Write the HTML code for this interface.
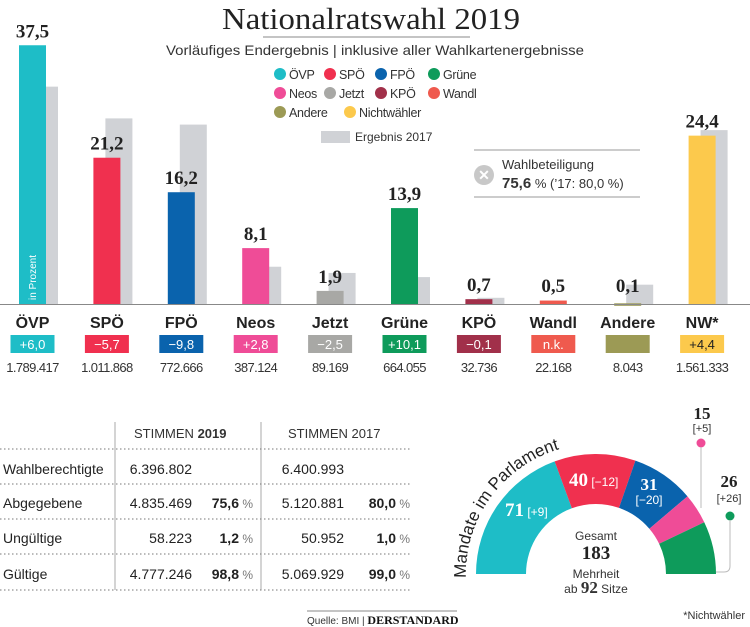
<!DOCTYPE html>
<html><head><meta charset="utf-8">
<style>
body{margin:0;background:#fff;width:750px;height:627px;overflow:hidden;position:relative;font-family:"Liberation Sans",sans-serif;color:#222}
svg{position:absolute;left:0;top:0}
.t{font-family:"Liberation Sans",sans-serif}
.s{font-family:"Liberation Serif",serif}
</style></head><body>
<svg width="750" height="627" viewBox="0 0 750 627">
<defs><path id="titlearc" d="M466 578 A130 130 0 0 1 590 444"/></defs>
<text x="371" y="29" text-anchor="middle" class="s" font-size="31" fill="#222" textLength="298" lengthAdjust="spacingAndGlyphs">Nationalratswahl 2019</text>
<line x1="263" y1="37" x2="470" y2="37" stroke="#888" stroke-width="1"/>
<text x="375" y="55" text-anchor="middle" class="t" font-size="14" fill="#333" textLength="418" lengthAdjust="spacingAndGlyphs">Vorläufiges Endergebnis | inklusive aller Wahlkartenergebnisse</text>
<g id="legend"></g>
<rect x="321" y="131" width="29" height="12" fill="#d0d2d6"/>
<text x="355" y="141" class="t" font-size="12" fill="#333">Ergebnis 2017</text>
<g>
<line x1="474" y1="150" x2="640" y2="150" stroke="#999"/>
<line x1="474" y1="197" x2="640" y2="197" stroke="#999"/>
<circle cx="484" cy="175" r="10" fill="#c8c8c8"/>
<text x="484" y="180" text-anchor="middle" font-size="14" font-weight="bold" fill="#fff" class="t">✕</text>
<text x="502" y="169" class="t" font-size="13" fill="#333">Wahlbeteiligung</text>
<text x="502" y="188" class="t" font-size="13" fill="#333"><tspan font-weight="bold" font-size="15">75,6</tspan> % (’17: 80,0 %)</text>
</g>
<g id="bars"></g>
<line x1="0" y1="304.5" x2="750" y2="304.5" stroke="#888" stroke-width="1"/>
<text transform="translate(36,300) rotate(-90)" class="t" font-size="10" fill="#fff">in Prozent</text>
<g id="below"></g>

<g class="t" font-size="14" fill="#222">
<line x1="115" y1="422" x2="115" y2="590" stroke="#aaa"/>
<line x1="261" y1="422" x2="261" y2="590" stroke="#aaa"/>
<g stroke="#777" stroke-dasharray="1.5,2.5" stroke-width="1">
<line x1="0" y1="449" x2="411" y2="449"/><line x1="0" y1="484" x2="411" y2="484"/><line x1="0" y1="519" x2="411" y2="519"/><line x1="0" y1="554" x2="411" y2="554"/><line x1="0" y1="590" x2="411" y2="590"/>
</g>
<text x="134" y="438" font-size="13" fill="#333">STIMMEN <tspan font-weight="bold">2019</tspan></text>
<text x="288" y="438" font-size="13" fill="#333">STIMMEN 2017</text>
<text x="3" y="474">Wahlberechtigte</text><text x="3" y="508">Abgegebene</text><text x="3" y="543">Ungültige</text><text x="3" y="579">Gültige</text>
<g text-anchor="end">
<text x="192" y="474">6.396.802</text><text x="192" y="508">4.835.469</text><text x="192" y="543">58.223</text><text x="192" y="579">4.777.246</text>
<text x="344" y="474">6.400.993</text><text x="344" y="508">5.120.881</text><text x="344" y="543">50.952</text><text x="344" y="579">5.069.929</text>
<text x="253" y="508"><tspan font-weight="bold">75,6</tspan><tspan fill="#777" font-size="12"> %</tspan></text>
<text x="253" y="543"><tspan font-weight="bold">1,2</tspan><tspan fill="#777" font-size="12"> %</tspan></text>
<text x="253" y="579"><tspan font-weight="bold">98,8</tspan><tspan fill="#777" font-size="12"> %</tspan></text>
<text x="410" y="508"><tspan font-weight="bold">80,0</tspan><tspan fill="#777" font-size="12"> %</tspan></text>
<text x="410" y="543"><tspan font-weight="bold">1,0</tspan><tspan fill="#777" font-size="12"> %</tspan></text>
<text x="410" y="579"><tspan font-weight="bold">99,0</tspan><tspan fill="#777" font-size="12"> %</tspan></text>
</g>
</g>
<line x1="307" y1="611" x2="457" y2="611" stroke="#888"/>
<text x="307" y="624" class="t" font-size="10" fill="#333">Quelle: BMI | <tspan class="s" font-weight="bold" font-size="12" fill="#111">DERSTANDARD</tspan></text>

<g id="donut"></g>
<text class="t" font-size="17" fill="#222"><textPath href="#titlearc">Mandate im Parlament</textPath></text>
<g class="t" text-anchor="middle">
<text x="596" y="540" font-size="12" fill="#333">Gesamt</text>
<text x="596" y="559" class="s" font-size="19" font-weight="bold" fill="#222">183</text>
<text x="596" y="578" font-size="12" fill="#333">Mehrheit</text>
<text x="596" y="593" font-size="12" fill="#333">ab <tspan class="s" font-weight="bold" font-size="17">92</tspan> Sitze</text>
</g>
<g class="t">
<text x="505" y="516" class="s" font-weight="bold" font-size="19" fill="#fff">71<tspan class="t" font-weight="normal" font-size="12"> [+9]</tspan></text>
<text x="569" y="486" class="s" font-weight="bold" font-size="19" fill="#fff">40<tspan class="t" font-weight="normal" font-size="12"> [−12]</tspan></text>
<text x="649" y="490" text-anchor="middle" class="s" font-weight="bold" font-size="17" fill="#fff">31</text>
<text x="649" y="504" text-anchor="middle" font-size="12" fill="#fff">[−20]</text>
<text x="702" y="419" text-anchor="middle" class="s" font-weight="bold" font-size="17" fill="#222">15</text>
<text x="702" y="432" text-anchor="middle" font-size="11" fill="#333">[+5]</text>
<circle cx="701" cy="443" r="4.5" fill="#ef4c97"/>
<line x1="701" y1="447" x2="701" y2="508" stroke="#bbb"/>
<text x="729" y="487" text-anchor="middle" class="s" font-weight="bold" font-size="17" fill="#222">26</text>
<text x="729" y="502" text-anchor="middle" font-size="11" fill="#333">[+26]</text>
<circle cx="730" cy="516" r="4.5" fill="#0e9b5b"/>
<path d="M730 520 L730 566 Q730 572 724 572 L716 572" fill="none" stroke="#bbb"/>
<text x="745" y="619" text-anchor="end" font-size="11" fill="#333">*Nichtwähler</text>
</g>
</svg>
<script>
const parties=["ÖVP","SPÖ","FPÖ","Neos","Jetzt","Grüne","KPÖ","Wandl","Andere","NW*"];
const values2019=[37.5,21.2,16.2,8.1,1.9,13.9,0.7,0.5,0.1,24.4];
const values2017=[31.5,26.9,26.0,5.4,4.5,3.9,0.9,0,2.8,25.2];
const valueLabels=["37,5","21,2","16,2","8,1","1,9","13,9","0,7","0,5","0,1","24,4"];
const deltas=["+6,0","−5,7","−9,8","+2,8","−2,5","+10,1","−0,1","n.k.","","+4,4"];
const voteCounts=["1.789.417","1.011.868","772.666","387.124","89.169","664.055","32.736","22.168","8.043","1.561.333"];
const colors=["#1ebdc7","#f0304f","#0a63ad","#ef4c97","#a8a8a5","#0e9b5b","#a1304a","#ef5a4e","#9c9a55","#fcc94c"];
const legendNames=["ÖVP","SPÖ","FPÖ","Grüne","Neos","Jetzt","KPÖ","Wandl","Andere","Nichtwähler"];
const legendColors=["#1ebdc7","#f0304f","#0a63ad","#0e9b5b","#ef4c97","#a8a8a5","#a1304a","#ef5a4e","#9c9a55","#fcc94c"];
const seats=[71,40,31,15,26];
const seatColors=["#1ebdc7","#f0304f","#0a63ad","#ef4c97","#0e9b5b"];

const NS="http://www.w3.org/2000/svg";
function mk(tag,attrs,parent){const e=document.createElementNS(NS,tag);for(const k in attrs)e.setAttribute(k,attrs[k]);parent.appendChild(e);return e;}
const base=304, scale=6.9, bw=27;
const xPos=i=>19+i*74.4;
const yPos=v=>base-v*scale;

const bars=document.getElementById('bars');
parties.forEach((p,i)=>{
  const x=xPos(i);
  if(values2017[i]>0){
    const g=mk('rect',{x:x+12,y:yPos(values2017[i]),width:bw,height:values2017[i]*scale,fill:'#d0d2d6'},bars);
    
    
  }
  const r=mk('rect',{x:x,y:yPos(values2019[i]),width:bw,height:Math.max(values2019[i]*scale,2.5),fill:colors[i]},bars);
  
  
  const t=mk('text',{x:x+bw/2,y:Math.min(yPos(values2019[i])-8,292),'text-anchor':'middle','font-size':'19','font-family':'Liberation Serif,serif','font-weight':'bold',fill:'#222'},bars);
  t.textContent=valueLabels[i];
  
  
});
const below=document.getElementById('below');
parties.forEach((p,i)=>{
  const cx=xPos(i)+bw/2;
  const n=mk('text',{x:cx,y:328,'text-anchor':'middle','font-size':'16','font-weight':'bold',fill:'#222'},below);
  n.textContent=p;
  
  
  const b=mk('rect',{x:cx-22,y:335,width:44,height:18,fill:colors[i]},below);
  
  
  const d=mk('text',{x:cx,y:349,'text-anchor':'middle','font-size':'13',fill:i==9?'#222':'#fff'},below);
  d.textContent=deltas[i];
  
  
  const v=mk('text',{x:cx,y:372,'text-anchor':'middle','font-size':'13',fill:'#333','letter-spacing':'-0.6'},below);
  v.textContent=voteCounts[i];
  
  
});
const lg=document.getElementById('legend');
const lx=[280,330,381,434];
legendNames.forEach((n,i)=>{
  let x=lx[i%4];
  if(i==9) x=350;
  const y=74+Math.floor(i/4)*19;
  const c=mk('circle',{cx:x,cy:y,r:6,fill:legendColors[i]},lg);
  
  
  const t=mk('text',{x:x+9,y:y+5,'font-size':'12.5',fill:'#333','letter-spacing':'-0.3'},lg);
  t.textContent=n;
  
  
});
const dn=document.getElementById('donut');
const total=seats.reduce((a,b)=>a+b,0);
const cx=596,cy=574,R=120,r0=70;
let acc=0;
seats.forEach((s,i)=>{
  const a0=Math.PI*(1-acc/total), a1=Math.PI*(1-(acc+s)/total);
  acc+=s;
  const p=(a,rad)=>[cx+rad*Math.cos(a),cy-rad*Math.sin(a)];
  const [x0,y0]=p(a0,R),[x1,y1]=p(a1,R),[x2,y2]=p(a1,r0),[x3,y3]=p(a0,r0);
  const path=mk('path',{d:`M${x0} ${y0} A${R} ${R} 0 0 1 ${x1} ${y1} L${x2} ${y2} A${r0} ${r0} 0 0 0 ${x3} ${y3}Z`,fill:seatColors[i]},dn);
  
  
});
</script>
</body></html>
